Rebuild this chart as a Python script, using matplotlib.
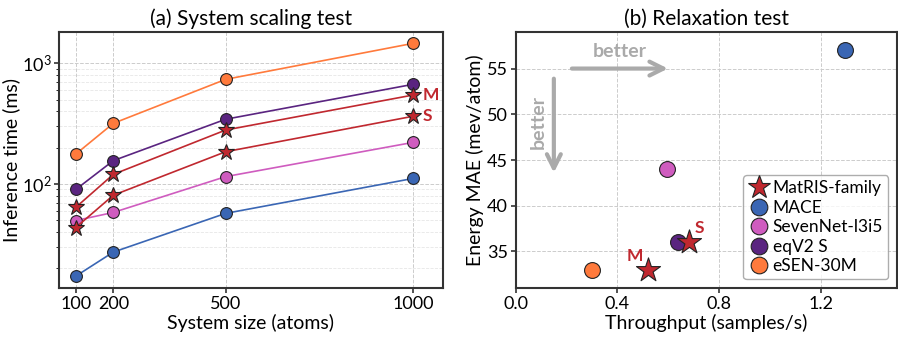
import matplotlib
matplotlib.use("Agg")
import matplotlib.pyplot as plt
from matplotlib.lines import Line2D

plt.rcParams['font.family'] = ['Lato', 'DejaVu Sans']

# ---- data: (a) system scaling ----
sizes = [100, 200, 500, 1000]
t_esen = [177, 318, 737, 1465]
t_eqv2 = [90, 156, 344, 670]
t_matris_m = [64, 120, 280, 546]
t_matris_s = [43.5, 80.6, 185, 364]
t_seven = [49.7, 58, 115, 221]
t_mace = [17.2, 27.2, 57, 111]

# ---- data: (b) relaxation ----
models = ['MACE', 'SevenNet-l3i5', 'eqV2 S', 'eSEN-30M']
thr = [1.294, 0.594, 0.640, 0.302]
mae = [57, 44, 36, 33]
matris_labels = ['S', 'M']
matris_thr = [0.683, 0.519]
matris_mae = [36, 33]

c_red = '#c0282f'
c_blue = '#3a66b4'
c_pink = '#cf5cbf'
c_purple = '#5a2480'
c_orange = '#ff7a3c'
colors = [c_blue, c_pink, c_purple, c_orange]

fig = plt.figure(figsize=(8.98, 3.39), dpi=100)
ax1 = fig.add_axes([0.0657, 0.1504, 0.4276, 0.7552])
ax2 = fig.add_axes([0.5743, 0.1504, 0.4246, 0.7552])

for ax in (ax1, ax2):
    for s in ax.spines.values():
        s.set_color('#333333')
        s.set_linewidth(1.5)
    ax.tick_params(labelsize=13, width=1.2, color='#333333', pad=2)

# ######## Plot (a) ########
def line(y, c, m='o', ms=8.5):
    ax1.plot(sizes, y, color=c, lw=1.2, marker=m, ms=ms, mfc=c,
             mec='#222222', mew=0.8, zorder=3)

line(t_esen, c_orange)
line(t_eqv2, c_purple)
line(t_seven, c_pink)
line(t_mace, c_blue)
line(t_matris_m, c_red, '*', 12)
line(t_matris_s, c_red, '*', 12)
ax1.text(1025, t_matris_m[-1], 'M', color=c_red, fontsize=12.5,
         fontweight='bold', va='center')
ax1.text(1025, t_matris_s[-1], 'S', color=c_red, fontsize=12.5,
         fontweight='bold', va='center')

ax1.set_yscale('log')
ax1.set_xlim(55, 1080)
ax1.set_ylim(13.7, 1820)
ax1.set_xticks(sizes)
ax1.grid(True, which='major', ls='--', color='#cccccc', lw=0.7)
ax1.grid(True, which='minor', axis='y', ls='--', color='#e6e6e6', lw=0.6)
ax1.set_xlabel('System size (atoms)', fontsize=14, labelpad=2)
ax1.set_ylabel('Inference time (ms)', fontsize=14, labelpad=1)
ax1.set_title('(a) System scaling test', fontsize=15, pad=5)

# ######## Plot (b) ########
for x, y, c, n in zip(thr, mae, colors, models):
    ax2.scatter(x, y, s=130, color=c, edgecolor='#222222', lw=0.8,
                zorder=3, label=n)
ax2.scatter(matris_thr, matris_mae, s=330, marker='*', color=c_red,
            edgecolor='#222222', lw=0.8, zorder=4, label='MatRIS-family')
ax2.text(matris_thr[0] + 0.04, matris_mae[0] + 1.0, matris_labels[0],
         color=c_red, fontsize=12.5, fontweight='bold', ha='center')
ax2.text(matris_thr[1] - 0.05, matris_mae[1] + 1.0, matris_labels[1],
         color=c_red, fontsize=12.5, fontweight='bold', ha='center')

ax2.annotate('', xy=(0.61, 55), xytext=(0.21, 55),
             arrowprops=dict(arrowstyle='->', color='#aaaaaa', lw=3,
                             mutation_scale=25))
ax2.text(0.41, 56.9, 'better', color='#aaaaaa', fontsize=14,
         fontweight='bold', ha='center', va='center')
ax2.annotate('', xy=(0.15, 43.3), xytext=(0.15, 54.2),
             arrowprops=dict(arrowstyle='->', color='#aaaaaa', lw=3,
                             mutation_scale=25))
ax2.text(0.087, 49.2, 'better', color='#aaaaaa', fontsize=14,
         fontweight='bold', ha='center', va='center', rotation=90)

ax2.set_xlim(0, 1.5)
ax2.set_ylim(31, 59)
ax2.set_xticks([0.0, 0.4, 0.8, 1.2])
ax2.set_yticks([35, 40, 45, 50, 55])
ax2.grid(True, ls='--', color='#cccccc', lw=0.7)
ax2.set_xlabel('Throughput (samples/s)', fontsize=14, labelpad=2)
ax2.set_ylabel('Energy MAE (mev/atom)', fontsize=14, labelpad=2)
ax2.set_title('(b) Relaxation test', fontsize=15, pad=5)

handles = [Line2D([], [], ls='', marker='*', ms=17, mfc=c_red, mec='#222222',
                  mew=0.8, label='MatRIS-family')]
for c, n in zip(colors, models):
    handles.append(Line2D([], [], ls='', marker='o', ms=12, mfc=c,
                          mec='#222222', mew=0.8, label=n))
ax2.legend(handles=handles, loc='lower right', fontsize=12.5, handletextpad=0.2,
           borderpad=0.3, labelspacing=0.2, handlelength=1.2,
           edgecolor='#999999', fancybox=True)

fig.savefig('out.png', dpi=100)
